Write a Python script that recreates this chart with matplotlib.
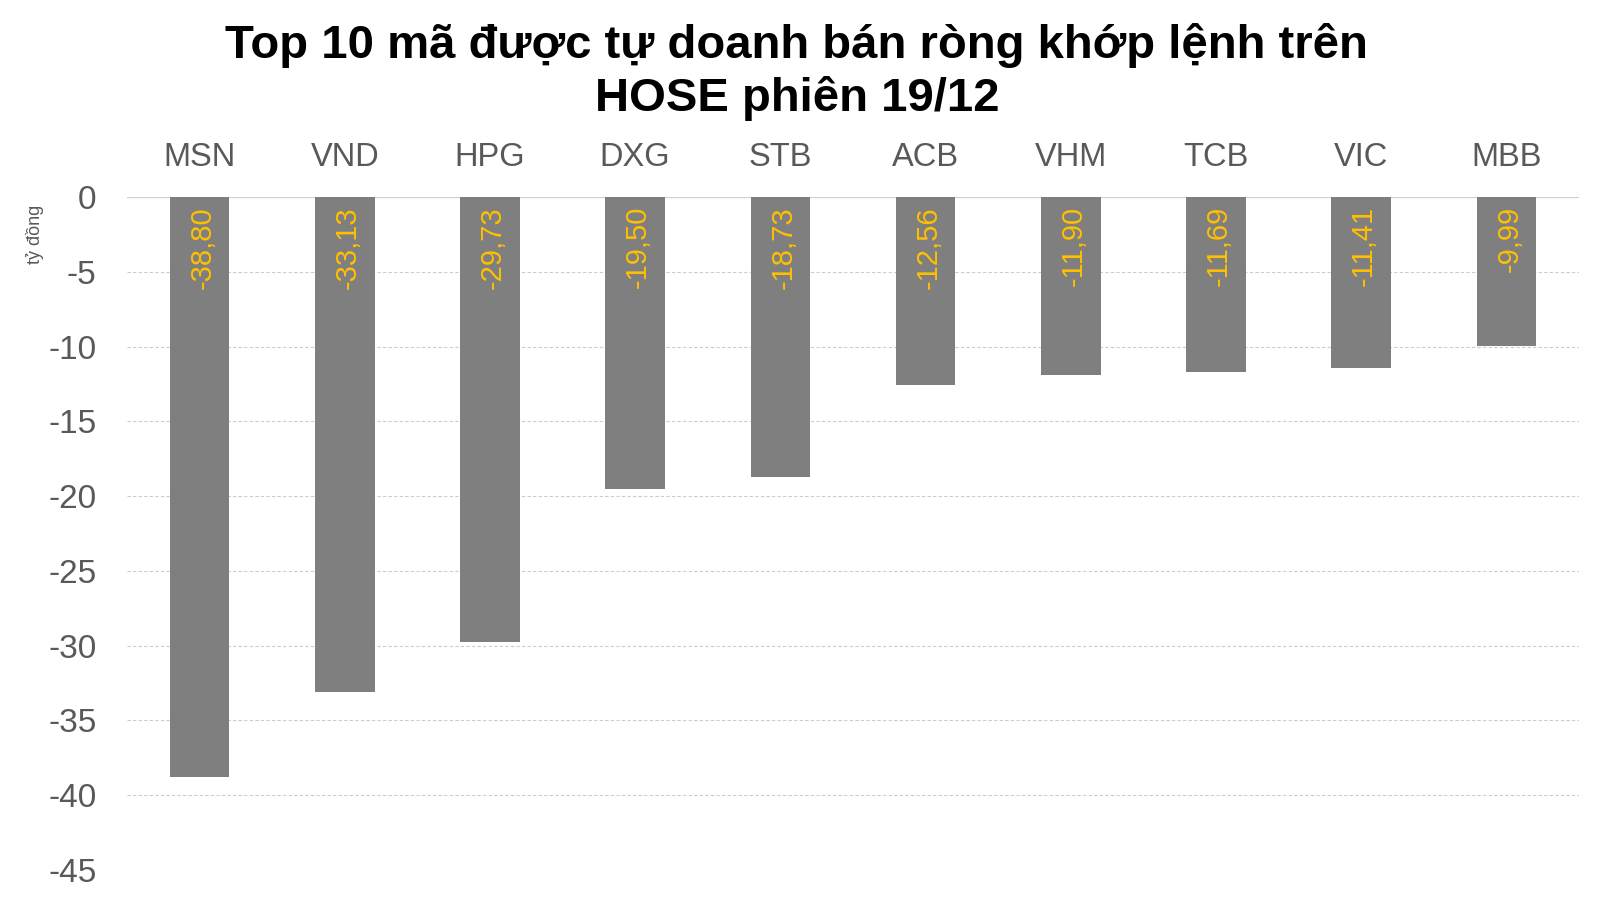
import numpy as np
import matplotlib.pyplot as plt

plt.rcParams['font.family'] = ['Liberation Sans', 'DejaVu Sans']

tickers = ['MSN', 'VND', 'HPG', 'DXG', 'STB', 'ACB', 'VHM', 'TCB', 'VIC', 'MBB']
values = [-38.80, -33.13, -29.73, -19.50, -18.73, -12.56, -11.90, -11.69, -11.41, -9.99]
yticks = [0, -5, -10, -15, -20, -25, -30, -35, -40, -45]

fig = plt.figure(figsize=(15.97, 8.99), dpi=100)
ax = fig.add_axes([0.0795, 0.0323, 0.9092, 0.7486])

x = np.arange(len(tickers))
ax.bar(x, values, width=0.41, color='#7f7f7f', zorder=3)

for xi, v in zip(x, values):
    ax.text(xi + 0.02, -0.6, f'{v:.2f}'.replace('.', ','), rotation=90,
            ha='center', va='top', color='#ffc000', fontsize=21, zorder=4)

ax.set_xlim(-0.5, len(tickers) - 0.5)
ax.set_ylim(-45, 0)
ax.set_yticks(yticks)
ax.set_yticklabels([str(t) for t in yticks], fontsize=24, color='#595959')
ax.xaxis.tick_top()
ax.set_xticks(x)
ax.set_xticklabels(tickers, fontsize=23.5, color='#595959')
ax.tick_params(length=0)
ax.tick_params(axis='x', pad=17)
ax.tick_params(axis='y', pad=22)

for t in yticks:
    if t == 0:
        ax.axhline(t, color='#d0d0d0', lw=0.9, zorder=1)
    else:
        ax.axhline(t, color='#cccccc', lw=0.8, ls=(0, (3, 2)), zorder=1)

for s in ax.spines.values():
    s.set_visible(False)

fig.text(0.022, 0.739, 'tỷ đồng', rotation=90, ha='center', va='center',
         fontsize=13, color='#595959')

fig.text(0.499, 0.92, 'Top 10 mã được tự doanh bán ròng khớp lệnh trên\nHOSE phiên 19/12',
         ha='center', va='center', fontsize=34, fontweight='bold', color='black',
         linespacing=1.25)

fig.savefig('out.png', dpi=100)
